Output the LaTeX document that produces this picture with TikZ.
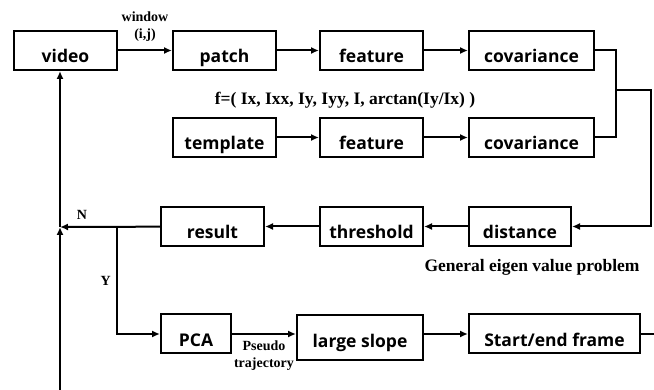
\documentclass[tikz,border=0pt]{standalone}
\usepackage{fontspec}
\setmainfont{Liberation Serif}
\newfontfamily\boxfont{Open Sans}
\usetikzlibrary{positioning,arrows.meta}

\tikzset{
  blk/.style={draw,line width=2pt,inner xsep=0pt,inner ysep=6pt,
    text height=26pt,text depth=1pt,minimum width=103pt,
    font=\boxfont\bfseries\fontsize{17.5}{20}\selectfont},
  lbl/.style={font=\bfseries\fontsize{14}{17}\selectfont,align=center},
  note/.style={font=\bfseries\fontsize{17.5}{20}\selectfont},
}

\begin{document}
\begin{tikzpicture}[x=1pt,y=-1pt,line width=2pt,>={Latex[length=8pt,width=7pt]}]
  \useasboundingbox (0,0) rectangle (654,390);

  % top row
  \node[blk] (video) at (65.5,50.5) {video};
  \node[blk] (patch) at (224.5,50.5) {patch};
  \node[blk] (feat)  at (371.5,50.5) {feature};
  \node[blk,minimum width=125pt] (cov) at (531.5,50.5) {covariance};

  % template row
  \node[blk] (tmpl)  at (224.5,137.5) {template};
  \node[blk] (feat2) at (371.5,137.5) {feature};
  \node[blk,minimum width=125pt] (cov2) at (531.5,137.5) {covariance};

  % decision row
  \node[blk,minimum width=102pt] (dist) at (520,226.5) {distance};
  \node[blk] (thr) at (371.5,226.5) {threshold};
  \node[blk] (res) at (212.5,226.5) {result};

  % bottom row
  \node[blk,minimum width=70pt] (pca) at (196,334) {PCA};
  \node[blk,minimum width=126pt,inner ysep=6.5pt,text depth=6pt] (slope) at (360,337.5) {large slope};
  \node[blk,minimum width=171pt] (sef) at (554.5,334) {Start/end frame};

  \coordinate (mrg) at (616,90);
  \coordinate (jn) at (60,227);
  \coordinate (br) at (117,227);
  \coordinate (in) at (60,390);
  \coordinate (out) at (654,334);

  \draw[->] (video) -- node[lbl,above=5pt] {window\\(i,j)} (patch);
  \draw[->] (patch) -- (feat);
  \draw[->] (feat) -- (cov);
  \draw[->] (tmpl) -- (feat2);
  \draw[->] (feat2) -- (cov2);
  \node[note] (fvec) at (345,100) {f=( Ix, Ixx, Iy, Iyy, I, arctan(Iy/Ix) )};

  % merge both covariances into the distance
  \draw (cov.east) -| (mrg) |- (cov2.east);
  \draw[->] (mrg) -- (651,90) |- (dist.east);
  \node[note] (gevp) at (532,267) {General eigen value problem};

  \draw[->] (dist) -- (thr);
  \draw[->] (thr) -- (res);
  \draw[->] (res) -- node[lbl,pos=0.78,above=3pt] {N} (jn);
  \draw[->] (br) |- node[lbl,pos=0.25,left=2pt] {Y} (pca.west);

  \draw[->] (in) -- (jn);
  \draw[->] (jn) -- (jn |- video.south);

  \draw[->] (pca.east) -- node[lbl,below=2pt,align=center] {Pseudo\\trajectory} (pca.east -| slope.west);
  \draw[->] (slope.east |- sef.west) -- (sef.west);
  \draw (sef.east) -- (out);
\end{tikzpicture}
\end{document}
